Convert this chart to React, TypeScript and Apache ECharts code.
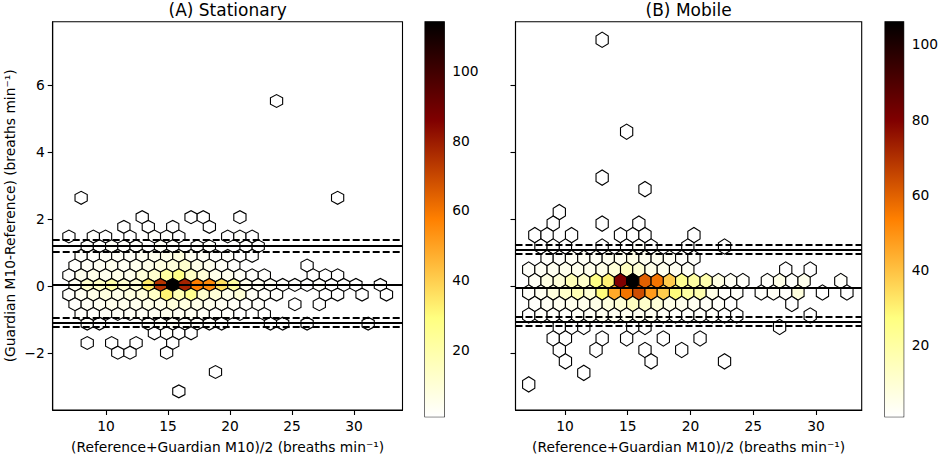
import React, { useEffect, useRef } from "react";
import * as echarts from "echarts";

// ---------- axes / ticks ----------
const X_TICKS = [10, 15, 20, 25, 30];
const Y_TICKS = [-2, 0, 2, 4, 6];
const CBAR_TICKS = [20, 40, 60, 80, 100];
const Y_RANGE = [-3.705, 7.89];
const STAT_X_RANGE = [5.7, 33.91];
const MOB_X_RANGE = [6.06, 33.64];
const STAT_COUNT_RANGE = [1, 114];
const MOB_COUNT_RANGE = [1, 106];

// ---------- Bland-Altman lines ----------
const STAT_BIAS = [0.035];
const STAT_LOA = [1.19, -1.092];
const STAT_LOA_CI = [1.374, 1.013, -0.963, -1.21];
const MOB_BIAS = [-0.035];
const MOB_LOA = [1.086, -1.057];
const MOB_LOA_CI = [1.218, 0.954, -0.91, -1.19];

// ---------- hexbin grids (bin centres in data units) ----------
const STAT_GRID = { x0: 7.5, sx: 0.985, y0: 0.03, dy: 0.289 };
const MOB_GRID = { x0: 7.6, sx: 0.975, y0: 0.1465, dy: 0.343 };

// rows of bin counts: [row, firstColumn, counts (0 = empty bin)]
const STAT_ROWS: [number, number, number[]][] = [
  [19, 17, [1]],
  [9, 1, [1]],
  [9, 22, [1]],
  [7, 6, [1, 0, 0, 0, 1, 1, 0, 0, 1]],
  [6, 4, [1, 0, 1, 0, 1, 0, 0, 1]],
  [5, 0, [1, 0, 2, 1, 0, 1, 0, 2, 2, 1, 0, 0, 0, 1, 2, 1]],
  [4, 1, [2, 2, 3, 2, 2, 0, 3, 2, 0, 2, 2, 0, 0, 1, 1]],
  [3, 1, [2, 2, 3, 3, 3, 4, 5, 6, 8, 4, 3, 2, 2, 1, 1]],
  [2, 0, [2, 3, 4, 5, 4, 5, 6, 8, 9, 12, 6, 5, 3, 2]],
  [2, 19, [1]],
  [1, 0, [2, 5, 6, 5, 6, 5, 9, 12, 22, 28, 14, 10, 6, 5, 3, 2, 2]],
  [1, 20, [1, 1, 1]],
  [0, 0, [4, 12, 14, 20, 12, 10, 34, 74, 114, 78, 58, 55, 36, 22, 5, 4, 3, 2, 2, 1, 2, 1, 1, 1, 0, 1]],
  [-1, 0, [2, 4, 6, 8, 6, 8, 9, 14, 32, 18, 26, 12, 10, 6, 10, 3, 2, 2]],
  [-1, 21, [1, 1, 0, 1, 0, 1]],
  [-2, 0, [2, 3, 4, 5, 5, 5, 6, 6, 9, 8, 6, 5, 4, 3, 2, 2]],
  [-2, 18, [1, 0, 1]],
  [-3, 1, [2, 2, 3, 3, 3, 3, 4, 5, 4, 4, 3, 2, 2, 1, 0, 1]],
  [-4, 1, [2, 1, 0, 0, 0, 2, 3, 3, 2, 2, 2, 1]],
  [-4, 16, [1, 1, 0, 1]],
  [-4, 24, [1]],
  [-5, 7, [1, 2, 1, 1]],
  [-6, 1, [1, 0, 1, 0, 1, 0, 0, 1]],
  [-7, 4, [1, 1, 0, 0, 1]],
  [-9, 12, [1]],
  [-11, 9, [1]],
];

const MOB_ROWS: [number, number, number[]][] = [
  [21, 6, [1]],
  [13, 8, [1]],
  [9, 6, [1]],
  [8, 9, [1]],
  [6, 2, [1]],
  [5, 2, [1, 0, 0, 0, 1, 0, 0, 1]],
  [4, 0, [1, 1, 0, 1, 0, 0, 0, 1, 1, 1, 0, 0, 0, 1]],
  [3, 1, [1, 2, 1, 0, 0, 1, 0, 1, 2, 1, 0, 0, 1, 0, 0, 1]],
  [2, 1, [2, 2, 3, 3, 3, 4, 4, 6, 4, 4, 3, 2, 2]],
  [1, 0, [2, 3, 4, 5, 5, 5, 6, 9, 14, 10, 6, 5, 4, 3]],
  [1, 21, [1, 0, 1]],
  [0, 0, [3, 7, 9, 16, 12, 26, 30, 80, 106, 60, 56, 38, 24, 20, 18, 7, 3, 2]],
  [0, 19, [2, 6, 2, 5, 0, 0, 2]],
  [-1, 0, [2, 4, 8, 12, 16, 10, 28, 45, 56, 64, 48, 38, 28, 20, 18, 6, 2, 2]],
  [-1, 19, [2, 3, 2, 8, 0, 1, 0, 1]],
  [-2, 0, [2, 3, 4, 5, 5, 6, 8, 10, 14, 12, 9, 6, 5, 4, 3, 2, 1]],
  [-2, 21, [1]],
  [-3, 0, [1, 2, 2, 2, 3, 3, 4, 4, 4, 4, 4, 3, 2, 2, 2, 2, 1, 1]],
  [-3, 23, [1]],
  [-4, 2, [1, 1, 1, 0, 0, 0, 1, 1]],
  [-4, 20, [1]],
  [-5, 2, [1, 1, 0, 0, 1, 0, 1, 0, 0, 1, 0, 0, 1]],
  [-6, 2, [1, 0, 0, 1, 0, 0, 0, 1, 0, 0, 1]],
  [-7, 3, [1, 0, 0, 0, 0, 0, 0, 1]],
  [-7, 16, [1]],
  [-8, 4, [1]],
  [-9, 0, [1]],
];

// afmhot_r colour map (white -> yellow -> orange -> dark red -> black)
const AFMHOT_R = ["#ffffff", "#ffff80", "#ff8000", "#800000", "#000000"];

const FONT = "DejaVu Sans";

type Grid = { x0: number; sx: number; y0: number; dy: number };

function binsToPoints(rows: [number, number, number[]][], g: Grid) {
  const out: number[][] = [];
  rows.forEach(([r, c0, counts]) => {
    counts.forEach((n, i) => {
      if (n <= 0) return;
      const odd = Math.abs(r) % 2 === 1;
      const x = g.x0 + (c0 + i) * g.sx - (odd ? g.sx / 2 : 0);
      const y = g.y0 + r * g.dy;
      out.push([x, y, n]);
    });
  });
  return out;
}

function hexRenderer(g: Grid) {
  return (_params: any, api: any) => {
    const x = api.value(0);
    const y = api.value(1);
    const hw = g.sx / 2;
    const d = g.dy;
    const pts = [
      [x + hw, y - d / 3],
      [x + hw, y + d / 3],
      [x, y + (2 * d) / 3],
      [x - hw, y + d / 3],
      [x - hw, y - d / 3],
      [x, y - (2 * d) / 3],
    ].map((p) => api.coord(p));
    return {
      type: "polygon",
      shape: { points: pts },
      style: { fill: api.visual("color"), stroke: "#000", lineWidth: 1.1 },
    };
  };
}

function colorbarRenderer(_params: any, api: any) {
  const tl = api.coord([0, api.value(2)]);
  const br = api.coord([1, api.value(1)]);
  const stops = AFMHOT_R.map((c, i) => ({ offset: 1 - i / (AFMHOT_R.length - 1), color: c })).reverse();
  return {
    type: "rect",
    shape: { x: tl[0], y: tl[1], width: br[0] - tl[0], height: br[1] - tl[1] },
    style: { fill: new echarts.graphic.LinearGradient(0, 0, 0, 1, stops) },
  };
}

function lineMarks(bias: number[], loa: number[], ci: number[]) {
  const solid = { type: "solid", color: "#000", width: 2 };
  const dashed = { type: [7, 3], color: "#000", width: 2 };
  return [
    ...bias.map((v) => ({ yAxis: v, lineStyle: solid })),
    ...loa.map((v) => ({ yAxis: v, lineStyle: solid })),
    ...ci.map((v) => ({ yAxis: v, lineStyle: dashed })),
  ];
}

const minusFmt = (v: number) => (v < 0 ? "\u2212" + Math.abs(v) : String(v));

const tickStyle = { lineStyle: { color: "#000", width: 1.1 }, length: 5 };
const labelStyle = { color: "#000", fontSize: 13.8, fontFamily: FONT };
const X_NAME = "(Reference+Guardian M10)/2 (breaths min\u207b\u00b9)";
const Y_NAME = "(Guardian M10-Reference) (breaths min\u207b\u00b9)";

export default function App() {
  const ref = useRef<HTMLDivElement>(null);
  useEffect(() => {
    if (!ref.current) return;
    const chart = echarts.init(ref.current, undefined, { renderer: "svg" });
    const statPts = binsToPoints(STAT_ROWS, STAT_GRID);
    const mobPts = binsToPoints(MOB_ROWS, MOB_GRID);

    const mainX = (idx: number, range: number[]) => ({
      gridIndex: idx,
      type: "value",
      min: range[0],
      max: range[1],
      axisLine: { show: true, onZero: false, lineStyle: { color: "#000", width: 1.1 } },
      splitLine: { show: false },
      axisTick: { ...tickStyle, customValues: X_TICKS },
      axisLabel: { ...labelStyle, customValues: X_TICKS, margin: 9 },
      name: X_NAME,
      nameLocation: "middle",
      nameGap: 30,
      nameTextStyle: { ...labelStyle },
    });
    const mainY = (idx: number, showLabels: boolean) => ({
      gridIndex: idx,
      type: "value",
      min: Y_RANGE[0],
      max: Y_RANGE[1],
      axisLine: { show: true, onZero: false, lineStyle: { color: "#000", width: 1.1 } },
      splitLine: { show: false },
      axisTick: { ...tickStyle, customValues: Y_TICKS },
      axisLabel: { ...labelStyle, show: showLabels, customValues: Y_TICKS, formatter: minusFmt, margin: 8 },
      name: showLabels ? Y_NAME : "",
      nameLocation: "middle",
      nameGap: 36,
      nameRotate: 90,
      nameTextStyle: { ...labelStyle },
    });
    const cbY = (idx: number, range: number[]) => ({
      gridIndex: idx,
      type: "value",
      position: "right",
      min: range[0],
      max: range[1],
      axisLine: { show: false },
      splitLine: { show: false },
      axisTick: { ...tickStyle, customValues: CBAR_TICKS },
      axisLabel: { ...labelStyle, customValues: CBAR_TICKS, margin: 8 },
    });
    const gridBox = { show: true, borderColor: "#000", borderWidth: 1.1, backgroundColor: "transparent" };
    const titleStyle = (text: string) => ({
      text,
      fontSize: 17,
      fontFamily: FONT,
      fill: "#000",
      align: "center",
      verticalAlign: "middle",
      textAlign: "center",
      textVerticalAlign: "middle",
    });

    chart.setOption({
      animation: false,
      grid: [
        { ...gridBox, left: 52.7, top: 21.7, width: 349.8, height: 395 },
        { ...gridBox, left: 515.5, top: 21.7, width: 346.2, height: 395 },
        { ...gridBox, left: 425, top: 21.7, width: 19.3, height: 395 },
        { ...gridBox, left: 885, top: 21.7, width: 19.3, height: 395 },
      ],
      xAxis: [
        mainX(0, STAT_X_RANGE),
        mainX(1, MOB_X_RANGE),
        { gridIndex: 2, type: "value", min: 0, max: 1, show: false },
        { gridIndex: 3, type: "value", min: 0, max: 1, show: false },
      ],
      yAxis: [mainY(0, true), mainY(1, false), cbY(2, STAT_COUNT_RANGE), cbY(3, MOB_COUNT_RANGE)],
      visualMap: [
        {
          type: "continuous",
          show: false,
          seriesIndex: 0,
          dimension: 2,
          min: STAT_COUNT_RANGE[0],
          max: STAT_COUNT_RANGE[1],
          inRange: { color: AFMHOT_R },
        },
        {
          type: "continuous",
          show: false,
          seriesIndex: 1,
          dimension: 2,
          min: MOB_COUNT_RANGE[0],
          max: MOB_COUNT_RANGE[1],
          inRange: { color: AFMHOT_R },
        },
      ],
      graphic: [
        { type: "text", x: 227.6, y: 10, style: titleStyle("(A) Stationary") },
        { type: "text", x: 688.6, y: 10, style: titleStyle("(B) Mobile") },
      ],
      series: [
        {
          type: "custom",
          xAxisIndex: 0,
          yAxisIndex: 0,
          data: statPts,
          encode: { x: 0, y: 1 },
          renderItem: hexRenderer(STAT_GRID),
          z: 2,
          silent: true,
        },
        {
          type: "custom",
          xAxisIndex: 1,
          yAxisIndex: 1,
          data: mobPts,
          encode: { x: 0, y: 1 },
          renderItem: hexRenderer(MOB_GRID),
          z: 2,
          silent: true,
        },
        {
          type: "line",
          xAxisIndex: 0,
          yAxisIndex: 0,
          data: [],
          z: 5,
          markLine: {
            silent: true,
            symbol: ["none", "none"],
            label: { show: false },
            animation: false,
            data: lineMarks(STAT_BIAS, STAT_LOA, STAT_LOA_CI),
          },
        },
        {
          type: "line",
          xAxisIndex: 1,
          yAxisIndex: 1,
          data: [],
          z: 5,
          markLine: {
            silent: true,
            symbol: ["none", "none"],
            label: { show: false },
            animation: false,
            data: lineMarks(MOB_BIAS, MOB_LOA, MOB_LOA_CI),
          },
        },
        {
          type: "custom",
          xAxisIndex: 2,
          yAxisIndex: 2,
          data: [[0, STAT_COUNT_RANGE[0], STAT_COUNT_RANGE[1]]],
          renderItem: colorbarRenderer,
          silent: true,
        },
        {
          type: "custom",
          xAxisIndex: 3,
          yAxisIndex: 3,
          data: [[0, MOB_COUNT_RANGE[0], MOB_COUNT_RANGE[1]]],
          renderItem: colorbarRenderer,
          silent: true,
        },
      ],
    });
    return () => chart.dispose();
  }, []);

  return (
    <div
      ref={ref}
      style={{ position: "fixed", left: 0, top: 0, width: 941, height: 459, background: "#fff" }}
    />
  );
}
